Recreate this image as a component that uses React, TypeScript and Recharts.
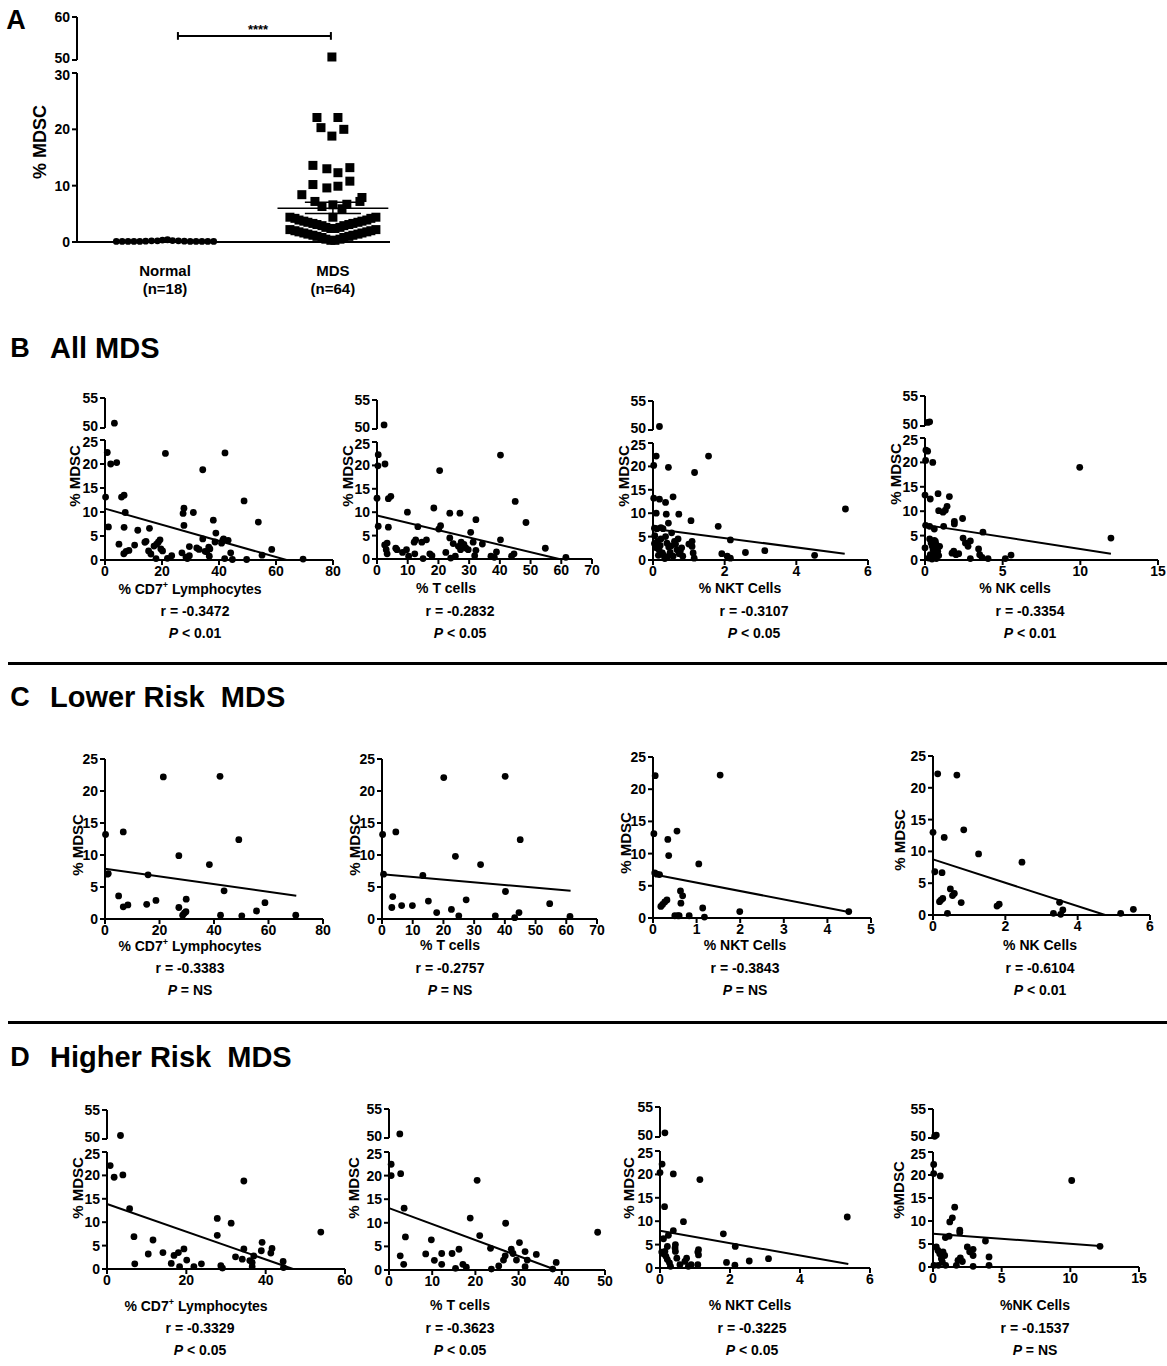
import React from "react";
import { ScatterChart, Scatter, XAxis, YAxis, ReferenceLine } from "recharts";

const FONT = "Arial, 'Liberation Sans', Helvetica, sans-serif";

// ---- Panel A: column scatter ----
const groupNames = ["Normal", "MDS"];
const groupNs = ["(n=18)", "(n=64)"];
const normalValues = [0.1, 0.1, 0.1, 0.1, 0.1, 0.15, 0.2, 0.2, 0.35, 0.4, 0.25, 0.2, 0.15, 0.1, 0.1, 0.1, 0.1, 0.1];
const normalJitter = [-0.29, -0.255, -0.22, -0.185, -0.15, -0.115, -0.08, -0.045, -0.015, 0.015, 0.045, 0.08, 0.115, 0.15, 0.185, 0.22, 0.255, 0.29];
const mdsValues = [
  50.7, 22.1, 22.1, 20.3, 20.0, 18.8, 13.6, 13.0, 12.3, 13.2, 10.2, 9.6, 9.9, 10.8, 8.4, 7.9,
  7.2, 6.3, 6.6, 6.7, 7.2, 5.9, 4.4,
  4.4, 4.2, 3.9, 3.7, 3.5, 3.3, 3.1, 2.9, 2.6, 2.4, 2.4, 2.6, 2.9, 3.1, 3.3, 3.5, 3.7, 3.9, 4.2, 4.4,
  2.2, 2.0, 1.8, 1.6, 1.4, 1.2, 1.0, 0.8, 0.5, 0.3, 0.3, 0.5, 0.8, 1.0, 1.2, 1.4, 1.6, 1.8, 2.0, 2.2,
];
const mdsJitter = [
  -0.006, -0.095, 0.03, -0.071, 0.065, -0.006, -0.119, -0.036, 0.03, 0.101, -0.119, -0.036, 0.03, 0.101, -0.185, 0.173,
  -0.107, -0.065, 0, 0.083, 0.161, 0.054, 0,
  -0.256, -0.226, -0.202, -0.173, -0.149, -0.119, -0.095, -0.065, -0.042, -0.012, 0.012, 0.042, 0.065, 0.095, 0.119, 0.149, 0.173, 0.202, 0.226, 0.256,
  -0.256, -0.226, -0.202, -0.173, -0.149, -0.119, -0.095, -0.065, -0.042, -0.012, 0.012, 0.042, 0.065, 0.095, 0.119, 0.149, 0.173, 0.202, 0.226, 0.256,
];
const mdsMean = 6.0;
const mdsSem = [5.05, 7.05];

// ---- Correlation panels: [x, %MDSC] ----
const allCd7: [number, number][] = [
  [3.3, 50.8], [0.8, 22.4], [2.0, 20.0], [4.1, 20.3], [0.2, 13.1], [5.8, 13.1], [6.7, 13.5], [7.1, 9.9], [1.2, 6.9], [6.7, 6.8],
  [4.9, 3.3], [6.6, 1.3], [7.4, 1.8], [8.4, 2.0], [10.4, 3.1], [11.5, 6.2], [14.0, 3.7], [14.4, 3.9], [15.6, 6.6], [15.3, 1.9],
  [16.1, 1.25], [17.2, 2.9], [18.1, 3.3], [18.7, 3.7], [19.3, 4.2], [17.9, 0.3], [19.6, 2.3], [20.2, 1.9], [21.2, 22.2], [21.9, 0.35],
  [23.4, 0.9], [27.0, 1.5], [27.4, 9.7], [27.7, 10.8], [27.7, 7.2], [28.4, 0.6], [28.9, 0.3], [29.6, 2.8], [29.6, 0.9], [31.0, 9.9],
  [32.2, 2.5], [33.0, 2.2], [34.3, 18.8], [34.3, 4.4], [35.1, 1.8], [35.7, 1.7], [36.4, 2.7], [36.8, 2.3], [36.6, 0.8], [38.0, 8.3],
  [38.9, 5.6], [38.6, 3.75], [40.9, 3.5], [41.3, 4.1], [41.6, 4.4], [42.1, 22.3], [42.0, 0.3], [43.2, 4.1], [44.1, 1.5], [44.7, 0.1],
  [48.8, 12.3], [49.7, 0.1], [53.8, 7.9], [55.1, 1.0], [58.5, 2.2], [69.5, 0.2],
];
const allT: [number, number][] = [
  [2.3, 50.7], [0.4, 22.3], [0.3, 19.9], [2.6, 20.3], [0, 13.0], [3.7, 12.9], [4.5, 13.4], [0.4, 7.0], [3.7, 6.8], [2.5, 3.0],
  [3.3, 3.4], [3.0, 2.0], [3.3, 1.1], [6.1, 2.3], [6.5, 2.0], [8.3, 1.4], [9.6, 2.0], [9.9, 10.0], [10.3, 0.6], [12.1, 3.6],
  [12.3, 1.1], [12.6, 4.1], [13.3, 6.9], [14.6, 3.6], [15.0, 0.1], [16.1, 4.1], [17.2, 1.1], [17.9, 0.7], [18.5, 10.9], [20.1, 6.4],
  [20.7, 7.1], [20.4, 18.9], [22.4, 1.4], [23.7, 9.8], [23.7, 4.5], [24.0, 0.2], [24.8, 3.3], [25.5, 0.6], [26.5, 2.7], [27.0, 9.8],
  [27.2, 2.0], [27.4, 3.6], [28.3, 3.1], [28.9, 2.35], [29.7, 2.0], [30.5, 5.7], [31.3, 3.6], [31.8, 0.7], [32.2, 8.4], [32.2, 1.85],
  [34.3, 3.2], [37.1, 0.6], [38.2, 0.35], [38.9, 1.5], [40.2, 22.2], [40.2, 4.1], [43.8, 0.6], [44.6, 1.1], [45.0, 12.3], [48.5, 7.8],
  [54.8, 2.3], [61.5, 0.35],
];
const allNkt: [number, number][] = [
  [0.18, 50.6], [0.09, 22.2], [0.02, 20.2], [0.43, 19.8], [1.55, 22.2], [1.16, 18.7], [0.02, 13.2], [0.18, 13.0], [0.56, 13.5], [0.35, 12.3],
  [0.09, 10.0], [0.37, 9.8], [0.72, 9.8], [0.43, 7.9], [1.06, 8.4], [1.82, 7.2], [5.37, 10.9], [0.04, 6.8], [0.11, 6.7], [0.22, 6.9],
  [0.28, 6.7], [0.04, 3.5], [0.09, 2.6], [0.17, 2.2], [0.22, 4.5], [0.26, 1.5], [0.3, 1.0], [0.33, 0.3], [0.39, 3.6], [0.44, 2.8],
  [0.48, 1.6], [0.52, 5.8], [0.56, 0.8], [0.6, 4.0], [0.63, 3.4], [0.67, 2.2], [0.73, 1.35], [0.76, 1.8], [0.83, 0.8], [1.09, 4.0],
  [1.09, 2.9], [1.12, 1.5], [1.15, 0.4], [1.92, 1.35], [2.07, 0.8], [2.16, 0.4], [2.16, 4.3], [2.58, 1.6], [3.12, 2.0], [4.51, 1.0],
  [0.05, 5.2], [0.12, 4.0], [0.2, 3.1], [0.35, 5.0], [0.5, 3.0], [0.7, 4.5], [0.15, 1.0], [0.4, 0.6], [1.0, 3.4], [0.8, 2.6],
];
const allNk: [number, number][] = [
  [0.17, 50.6], [0.3, 50.7], [0.06, 22.5], [0.17, 22.3], [0.04, 20.4], [0.5, 20.0], [0, 13.3], [0.34, 12.5], [0.84, 13.6], [1.57, 13.0],
  [1.42, 11.0], [1.31, 10.2], [0.88, 10.1], [1.16, 9.8], [0.04, 7.1], [0.3, 6.9], [1.2, 6.9], [0.6, 6.35], [1.89, 7.9], [1.89, 7.4],
  [2.42, 8.5], [3.73, 5.7], [9.96, 19.0], [11.97, 4.5], [0, 2.5], [0.3, 4.3], [0.39, 3.5], [0.47, 2.8], [0.52, 2.1], [0.56, 1.4],
  [0.67, 3.8], [0.73, 3.1], [0.77, 2.5], [0.82, 1.8], [0.88, 0.9], [0.94, 2.8], [0.24, 0.4], [0.45, 0.2], [0.73, 0.3], [0.34, 1.1],
  [1.74, 1.4], [1.85, 1.8], [2.0, 1.1], [2.17, 1.3], [2.45, 4.5], [2.6, 3.5], [2.77, 2.8], [2.92, 3.9], [2.92, 0.3], [3.45, 2.25],
  [3.52, 1.1], [3.67, 0.55], [4.06, 0.3], [5.17, 0.3], [5.54, 1.0], [0.6, 4.0], [0.7, 2.2], [0.5, 3.3],
];
const lowCd7: [number, number][] = [
  [0.2, 13.2], [1.2, 7.1], [0.9, 7.0], [5.0, 3.6], [6.7, 13.6], [6.7, 1.9], [8.4, 2.2], [15.3, 2.3], [15.8, 6.9], [18.7, 2.9],
  [21.4, 22.2], [27.1, 9.9], [27.1, 1.8], [28.5, 0.6], [29.1, 0.9], [29.7, 1.15], [29.8, 3.1], [38.3, 8.5], [42.2, 22.3], [42.4, 0.6],
  [43.7, 4.4], [49.1, 12.4], [50.2, 0.5], [55.6, 1.25], [58.7, 2.55], [70.0, 0.6],
];
const lowT: [number, number][] = [
  [0.2, 13.2], [0.5, 7.0], [3.2, 1.8], [3.5, 3.5], [4.5, 13.6], [6.4, 2.1], [9.9, 2.1], [13.3, 6.8], [15.1, 2.8], [17.8, 1.0],
  [20.1, 22.1], [22.6, 1.5], [23.9, 9.8], [25.0, 0.5], [27.4, 3.0], [32.1, 8.5], [36.9, 0.5], [40.1, 22.3], [40.2, 4.3], [43.2, 0.2],
  [44.6, 1.0], [45.0, 12.4], [54.6, 2.4], [61.2, 0.4],
];
const lowNkt: [number, number][] = [
  [0.02, 13.1], [0.05, 22.1], [0.04, 7.0], [0.09, 6.8], [0.15, 6.75], [0.18, 1.8], [0.22, 2.1], [0.27, 2.5], [0.32, 2.8], [0.34, 12.2],
  [0.36, 9.7], [0.5, 0.35], [0.57, 0.35], [0.6, 0.35], [0.55, 13.5], [0.63, 4.2], [0.68, 3.45], [0.64, 2.3], [0.83, 0.35], [1.05, 8.4],
  [1.14, 1.55], [1.18, 0.15], [1.54, 22.2], [1.99, 1.0], [4.49, 1.0],
];
const lowNk: [number, number][] = [
  [0, 13.0], [0.13, 22.2], [0.66, 22.0], [0.05, 6.8], [0.25, 6.65], [0.31, 12.2], [0.85, 13.4], [0.18, 2.1], [0.22, 2.35], [0.27, 2.6],
  [0.4, 0.26], [0.48, 4.1], [0.54, 3.05], [0.59, 3.4], [0.78, 1.95], [1.26, 9.6], [1.77, 1.4], [1.83, 1.7], [2.46, 8.3], [3.33, 0.26],
  [3.5, 2.0], [3.53, 0.1], [3.59, 0.8], [5.19, 0.26], [5.54, 0.9],
];
const highCd7: [number, number][] = [
  [3.4, 50.6], [0.8, 22.1], [1.8, 19.6], [4.0, 20.1], [5.7, 12.9], [6.8, 6.9], [7.0, 1.1], [10.4, 3.2], [11.6, 6.2], [14.1, 3.5],
  [16.2, 1.2], [16.9, 2.9], [18.0, 3.5], [18.3, 0.5], [19.4, 4.3], [20.1, 1.9], [21.9, 0.5], [23.8, 1.1], [27.8, 10.8], [27.8, 7.2],
  [28.7, 0.7], [29.1, 0.2], [31.3, 9.8], [32.4, 2.6], [34.1, 2.1], [34.5, 18.8], [34.5, 4.3], [36.0, 1.8], [36.6, 0.5], [36.6, 1.4],
  [37.0, 2.8], [38.9, 3.9], [39.1, 5.7], [41.3, 3.4], [41.6, 4.4], [44.4, 1.6], [44.5, 0.3], [53.9, 7.9],
];
const highT: [number, number][] = [
  [2.5, 50.7], [0.5, 22.4], [0.5, 20.0], [2.7, 20.4], [3.5, 13.1], [3.8, 7.0], [2.6, 3.0], [3.4, 1.2], [8.5, 3.4], [9.8, 6.4],
  [10.5, 2.05], [12.2, 3.5], [12.2, 1.2], [14.6, 3.5], [15.4, 0.35], [16.2, 4.4], [17.1, 1.2], [17.9, 0.6], [18.8, 11.0], [20.4, 19.0],
  [21.0, 7.3], [23.5, 4.6], [23.7, 0.2], [25.4, 0.85], [26.5, 2.1], [26.9, 3.0], [27.0, 9.9], [28.3, 4.4], [28.7, 3.5], [29.5, 2.1],
  [30.2, 5.8], [31.5, 3.9], [31.5, 0.7], [32.0, 2.1], [34.1, 3.3], [37.9, 0.2], [38.7, 1.6], [48.3, 8.0],
];
const highNkt: [number, number][] = [
  [0.14, 50.7], [0.06, 22.2], [0, 20.4], [0.38, 20.1], [1.14, 18.9], [0.13, 13.1], [0.67, 9.9], [0.38, 8.0], [1.81, 7.3], [5.35, 10.9],
  [0.1, 6.25], [0.24, 7.0], [0.21, 4.6], [0.05, 3.4], [0.1, 3.05], [0.14, 3.55], [0.17, 2.5], [0.21, 1.8], [0.27, 1.1], [0.3, 0.35],
  [0.43, 4.3], [0.44, 5.0], [0.44, 3.55], [0.48, 2.1], [0.57, 0.7], [0.71, 1.4], [0.76, 2.1], [0.81, 0.35], [0.89, 0.7], [1.08, 3.4],
  [1.1, 3.9], [1.08, 0.7], [1.1, 2.8], [1.9, 1.2], [2.15, 4.6], [2.14, 0.6], [2.55, 1.5], [3.1, 2.0],
];
const highNk: [number, number][] = [
  [0.12, 50.3], [0.24, 50.5], [0.05, 22.3], [0.05, 20.3], [0.53, 19.8], [1.58, 13.0], [1.41, 10.7], [1.22, 9.8], [1.17, 6.7], [0.9, 6.4],
  [1.95, 8.0], [1.95, 7.5], [10.1, 18.8], [12.16, 4.5], [3.82, 5.65], [0.24, 4.35], [0.36, 3.6], [0.49, 2.9], [0.61, 1.8], [0.68, 1.1],
  [0.39, 0.36], [0.73, 3.3], [0.85, 2.5], [0.92, 0.36], [0.07, 0.36], [1.7, 0.36], [1.82, 1.45], [1.99, 2.0], [2.14, 1.2], [2.5, 4.35],
  [2.67, 3.3], [2.92, 3.85], [2.92, 2.5], [2.92, 0.14], [4.08, 2.2], [4.08, 0.36],
];

// regression line ends
const allCd7Fit = [[0, 10.7], [63.7, 0]];
const allTFit = [[0, 9.3], [59.3, 0]];
const allNktFit = [[0, 6.7], [5.35, 1.35]];
const allNkFit = [[0, 7.2], [11.97, 1.3]];
const lowCd7Fit = [[0, 7.85], [70.2, 3.65]];
const lowTFit = [[0, 7.0], [61.4, 4.4]];
const lowNktFit = [[0, 6.8], [4.49, 0.93]];
const lowNkFit = [[0, 8.75], [4.76, 0]];
const highCd7Fit = [[0, 13.9], [46.9, 0]];
const highTFit = [[0, 13.1], [38.7, 0]];
const highNktFit = [[0, 7.95], [5.38, 0.85]];
const highNkFit = [[0, 7.25], [12.16, 4.55]];

const rValues = ["-0.3472", "-0.2832", "-0.3107", "-0.3354", "-0.3383", "-0.2757", "-0.3843", "-0.6104", "-0.3329", "-0.3623", "-0.3225", "-0.1537"];
const pValues = ["< 0.01", "< 0.05", "< 0.05", "< 0.01", "= NS", "= NS", "= NS", "< 0.01", "< 0.05", "< 0.05", "< 0.05", "= NS"];

const lowerTicks = [0, 5, 10, 15, 20, 25];
const upperTicks = [50, 55];

const YW = 30;
const MT = 10;
const MB = 10;
const MR = 8;
const XH = 22;

const axisStyle = { stroke: "#000", strokeWidth: 2 };
const tickFont = { fill: "#000", fontSize: 14, fontWeight: 700, fontFamily: FONT };

const Dot = (p: any) => <circle cx={p.cx} cy={p.cy} r={3.4} fill="#000" />;
const Sq = (p: any) => <rect x={p.cx - 4.5} y={p.cy - 4.5} width={9} height={9} fill="#000" />;

// y tick labels; labels next to an axis break are nudged apart a little
const yTick = (shift: Record<number, number>) => (p: any) => (
  <text x={p.x} y={p.y + (shift[p.payload.value] ?? 0)} dy="0.355em" textAnchor="end"
    fill="#000" fontSize={14} fontWeight={700} fontFamily={FONT}>
    {p.payload.value}
  </text>
);

type Spec = {
  left: number; right: number; y0: number; y25: number; y50?: number; y55?: number;
  xTicks: number[]; pts: [number, number][]; fit: number[][];
  xTitle: React.ReactNode; yTitle?: string; yLabelX: number; yLabelY: number; titleX: number; rX: number; textY: number; idx: number;
};

function Txt({ x, y, size = 14, rotate = false, children }: any) {
  return (
    <div
      style={{
        position: "absolute", left: x, top: y,
        transform: "translate(-50%,-50%)" + (rotate ? " rotate(-90deg)" : ""),
        fontSize: size, fontWeight: 700, fontFamily: FONT, whiteSpace: "nowrap", lineHeight: 1, color: "#000",
      }}
    >
      {children}
    </div>
  );
}

function CorrPanel({ s }: { s: Spec }) {
  const w = s.right - s.left + YW + MR;
  const xMax = s.xTicks[s.xTicks.length - 1];
  const broken = s.y50 !== undefined && s.y55 !== undefined;
  const low = s.pts.filter((d) => d[1] <= 25).map(([x, y]) => ({ x, y }));
  const high = s.pts.filter((d) => d[1] >= 50).map(([x, y]) => ({ x, y }));
  return (
    <>
      <div style={{ position: "absolute", left: s.left - YW, top: s.y25 - MT }}>
        <ScatterChart width={w} height={s.y0 - s.y25 + MT + XH} margin={{ top: MT, right: MR, bottom: 0, left: 0 }}>
          <XAxis type="number" dataKey="x" domain={[0, xMax]} ticks={s.xTicks} height={XH} axisLine={axisStyle}
            tickLine={axisStyle} tickSize={5} tickMargin={1} tick={tickFont} interval={0} />
          <YAxis type="number" dataKey="y" domain={[0, 25]} ticks={lowerTicks} width={YW} axisLine={axisStyle}
            tickLine={axisStyle} tickSize={5} tickMargin={2} tick={yTick(broken ? { 25: 2 } : {})} interval={0} />
          <Scatter data={low} shape={Dot} isAnimationActive={false} />
          <ReferenceLine segment={[{ x: s.fit[0][0], y: s.fit[0][1] }, { x: s.fit[1][0], y: s.fit[1][1] }]}
            stroke="#000" strokeWidth={2} />
        </ScatterChart>
      </div>
      {broken && (
        <div style={{ position: "absolute", left: s.left - YW, top: (s.y55 as number) - MT }}>
          <ScatterChart width={w} height={(s.y50 as number) - (s.y55 as number) + MT + MB} margin={{ top: MT, right: MR, bottom: MB, left: 0 }}>
            <XAxis type="number" dataKey="x" domain={[0, xMax]} hide />
            <YAxis type="number" dataKey="y" domain={[50, 55]} ticks={upperTicks} width={YW} axisLine={axisStyle}
              tickLine={axisStyle} tickSize={5} tickMargin={2} tick={yTick({ 50: -2 })} interval={0} />
            <Scatter data={high} shape={Dot} isAnimationActive={false} />
          </ScatterChart>
        </div>
      )}
      <Txt x={s.yLabelX} y={s.yLabelY} size={15} rotate>{s.yTitle ?? "% MDSC"}</Txt>
      <Txt x={s.titleX} y={s.textY} size={14}>{s.xTitle}</Txt>
      <Txt x={s.rX} y={s.textY + 23} size={14}>r = {rValues[s.idx]}</Txt>
      <Txt x={s.rX} y={s.textY + 45} size={14}><i>P</i> {pValues[s.idx]}</Txt>
    </>
  );
}

const cd7 = <span>% CD7<sup style={{ fontSize: 9 }}>+</sup> Lymphocytes</span>;

const specs: Spec[] = [
  { left: 105, right: 333, y0: 560, y25: 440, y50: 428, y55: 398, xTicks: [0, 20, 40, 60, 80], pts: allCd7, fit: allCd7Fit, xTitle: cd7, yLabelX: 74, yLabelY: 476, titleX: 190, rX: 195, textY: 588, idx: 0 },
  { left: 377, right: 592, y0: 559, y25: 442, y50: 429, y55: 400, xTicks: [0, 10, 20, 30, 40, 50, 60, 70], pts: allT, fit: allTFit, xTitle: "% T cells", yLabelX: 347, yLabelY: 476, titleX: 446, rX: 460, textY: 588, idx: 1 },
  { left: 653, right: 868, y0: 560, y25: 443, y50: 430, y55: 401, xTicks: [0, 2, 4, 6], pts: allNkt, fit: allNktFit, xTitle: "% NKT Cells", yLabelX: 623, yLabelY: 476, titleX: 740, rX: 754, textY: 588, idx: 2 },
  { left: 925, right: 1158, y0: 560, y25: 438, y50: 426, y55: 396, xTicks: [0, 5, 10, 15], pts: allNk, fit: allNkFit, xTitle: "% NK cells", yLabelX: 895, yLabelY: 474, titleX: 1015, rX: 1030, textY: 588, idx: 3 },
  { left: 105, right: 323, y0: 919, y25: 759, xTicks: [0, 20, 40, 60, 80], pts: lowCd7, fit: lowCd7Fit, xTitle: cd7, yLabelX: 77, yLabelY: 845, titleX: 190, rX: 190, textY: 945, idx: 4 },
  { left: 382, right: 597, y0: 919, y25: 759, xTicks: [0, 10, 20, 30, 40, 50, 60, 70], pts: lowT, fit: lowTFit, xTitle: "% T cells", yLabelX: 354, yLabelY: 845, titleX: 450, rX: 450, textY: 945, idx: 5 },
  { left: 653, right: 871, y0: 918, y25: 757, xTicks: [0, 1, 2, 3, 4, 5], pts: lowNkt, fit: lowNktFit, xTitle: "% NKT Cells", yLabelX: 625, yLabelY: 843, titleX: 745, rX: 745, textY: 945, idx: 6 },
  { left: 933, right: 1150, y0: 915, y25: 756, xTicks: [0, 2, 4, 6], pts: lowNk, fit: lowNkFit, xTitle: "% NK Cells", yLabelX: 899, yLabelY: 840, titleX: 1040, rX: 1040, textY: 945, idx: 7 },
  { left: 107, right: 345, y0: 1269, y25: 1152, y50: 1139, y55: 1110, xTicks: [0, 20, 40, 60], pts: highCd7, fit: highCd7Fit, xTitle: cd7, yLabelX: 77, yLabelY: 1188, titleX: 196, rX: 200, textY: 1305, idx: 8 },
  { left: 389, right: 605, y0: 1270, y25: 1152, y50: 1138, y55: 1109, xTicks: [0, 10, 20, 30, 40, 50], pts: highT, fit: highTFit, xTitle: "% T cells", yLabelX: 353, yLabelY: 1188, titleX: 460, rX: 460, textY: 1305, idx: 9 },
  { left: 660, right: 870, y0: 1268, y25: 1151, y50: 1137, y55: 1107, xTicks: [0, 2, 4, 6], pts: highNkt, fit: highNktFit, xTitle: "% NKT Cells", yLabelX: 628, yLabelY: 1188, titleX: 750, rX: 752, textY: 1305, idx: 10 },
  { left: 933, right: 1139, y0: 1267, y25: 1152, y50: 1138, y55: 1109, xTicks: [0, 5, 10, 15], pts: highNk, fit: highNkFit, xTitle: "%NK Cells", yTitle: "%MDSC", yLabelX: 898, yLabelY: 1190, titleX: 1035, rX: 1035, textY: 1305, idx: 11 },
];

const GroupTick = (p: any) => {
  const i = Math.round(p.payload.value) - 1;
  return (
    <g>
      <text x={p.x} y={p.y + 26} textAnchor="middle" fontSize={15} fontWeight={700} fontFamily={FONT} fill="#000">{groupNames[i]}</text>
      <text x={p.x} y={p.y + 44} textAnchor="middle" fontSize={15} fontWeight={700} fontFamily={FONT} fill="#000">{groupNs[i]}</text>
    </g>
  );
};

function PanelA() {
  const normal = normalValues.map((v, i) => ({ x: 1 + normalJitter[i], y: v }));
  const mds = mdsValues.map((v, i) => ({ x: 2 + mdsJitter[i], y: v }));
  const aLeft = 77;
  const aRight = 390;
  const w = aRight - aLeft + YW + MR;
  const dom: [number, number] = [0.476, 2.34];
  return (
    <>
      <div style={{ position: "absolute", left: aLeft - YW, top: 73 - MT }}>
        <ScatterChart width={w} height={242 - 73 + MT + 60} margin={{ top: MT, right: MR, bottom: 0, left: 0 }}>
          <XAxis type="number" dataKey="x" domain={dom} ticks={[1, 2]} height={60} axisLine={axisStyle}
            tickLine={false} tick={GroupTick} interval={0} />
          <YAxis type="number" dataKey="y" domain={[0, 30]} ticks={[0, 10, 20, 30]} width={YW} axisLine={axisStyle}
            tickLine={axisStyle} tickSize={5} tickMargin={2} tick={yTick({ 30: 2 })} interval={0} />
          <Scatter data={normal} shape={Dot} isAnimationActive={false} />
          <Scatter data={mds.filter((d) => d.y <= 30)} shape={Sq} isAnimationActive={false} />
          <ReferenceLine segment={[{ x: 1.67, y: mdsMean }, { x: 2.33, y: mdsMean }]} stroke="#000" strokeWidth={1.5} />
          <ReferenceLine segment={[{ x: 1.833, y: mdsSem[0] }, { x: 2.167, y: mdsSem[0] }]} stroke="#000" strokeWidth={1.5} />
          <ReferenceLine segment={[{ x: 1.833, y: mdsSem[1] }, { x: 2.167, y: mdsSem[1] }]} stroke="#000" strokeWidth={1.5} />
          <ReferenceLine segment={[{ x: 2, y: mdsSem[0] }, { x: 2, y: mdsSem[1] }]} stroke="#000" strokeWidth={1.5} />
        </ScatterChart>
      </div>
      <div style={{ position: "absolute", left: aLeft - YW, top: 17 - MT }}>
        <ScatterChart width={w} height={60 - 17 + MT + MB} margin={{ top: MT, right: MR, bottom: MB, left: 0 }}>
          <XAxis type="number" dataKey="x" domain={dom} hide />
          <YAxis type="number" dataKey="y" domain={[50, 60]} ticks={[50, 60]} width={YW} axisLine={axisStyle}
            tickLine={axisStyle} tickSize={5} tickMargin={2} tick={yTick({ 50: -2 })} interval={0} />
          <Scatter data={mds.filter((d) => d.y >= 50)} shape={Sq} isAnimationActive={false} />
          <ReferenceLine segment={[{ x: 1.077, y: 55.6 }, { x: 1.988, y: 55.6 }]} stroke="#000" strokeWidth={2} />
          <ReferenceLine segment={[{ x: 1.077, y: 54.7 }, { x: 1.077, y: 56.5 }]} stroke="#000" strokeWidth={2} />
          <ReferenceLine segment={[{ x: 1.988, y: 54.7 }, { x: 1.988, y: 56.5 }]} stroke="#000" strokeWidth={2} />
        </ScatterChart>
      </div>
      <Txt x={258} y={29} size={13}>****</Txt>
      <Txt x={40} y={142} size={18} rotate>% MDSC</Txt>
    </>
  );
}

const headStyle: React.CSSProperties = { position: "absolute", left: 50, fontSize: 29, fontWeight: 700, fontFamily: FONT, whiteSpace: "pre", lineHeight: 1 };

export default function App() {
  return (
    <div style={{ position: "absolute", left: 0, top: 0, width: 1167, height: 1366, background: "#fff", overflow: "hidden", fontFamily: FONT }}>
      <Txt x={16} y={20} size={27}>A</Txt>
      <PanelA />
      <Txt x={20} y={348} size={27}>B</Txt>
      <div style={{ ...headStyle, top: 334 }}>All MDS</div>
      <div style={{ position: "absolute", left: 8, top: 662, width: 1159, height: 3, background: "#000" }} />
      <Txt x={20} y={697} size={27}>C</Txt>
      <div style={{ ...headStyle, top: 683 }}>Lower Risk  MDS</div>
      <div style={{ position: "absolute", left: 8, top: 1021, width: 1159, height: 3, background: "#000" }} />
      <Txt x={20} y={1057} size={27}>D</Txt>
      <div style={{ ...headStyle, top: 1043 }}>Higher Risk  MDS</div>
      {specs.map((s, i) => <CorrPanel key={i} s={s} />)}
    </div>
  );
}
